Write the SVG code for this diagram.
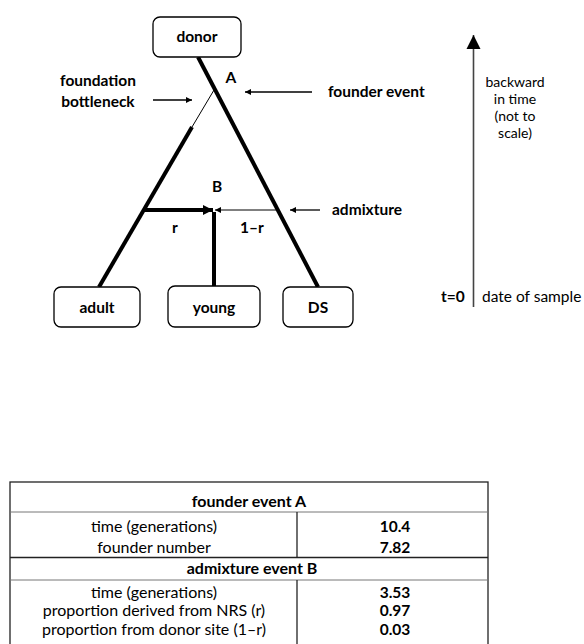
<svg xmlns="http://www.w3.org/2000/svg" width="584" height="644" viewBox="0 0 584 644">
<style>
.box{fill:#fff;stroke:#000;stroke-width:1.3}
.t{font-family:Lato,"Liberation Sans",sans-serif;fill:#000}
.b{font-weight:bold;font-size:15.5px}
.n{font-size:14px}
.m{text-anchor:middle}
.tb{font-size:16px}
.thick{stroke:#000;stroke-width:4;fill:none}
.thin{stroke:#000;stroke-width:1;fill:none}
.lbl{stroke:#000;stroke-width:1.3;fill:none}
.tl{stroke:#444;stroke-width:1.6}
.g{stroke:#777;stroke-width:1}
.d{stroke:#222;stroke-width:1.3}
</style>
<defs>
<marker id="ah" viewBox="0 0 10 10" refX="10" refY="5" markerWidth="8" markerHeight="6" markerUnits="userSpaceOnUse" orient="auto"><path d="M0,0 L10,5 L0,10 z" fill="#000"/></marker>
<marker id="ahb" viewBox="0 0 10 10" refX="10" refY="5" markerWidth="10" markerHeight="12" markerUnits="userSpaceOnUse" orient="auto"><path d="M0,0 L10,5 L0,10 z" fill="#000"/></marker>
<marker id="aht" viewBox="0 0 10 10" refX="10" refY="5" markerWidth="14" markerHeight="15" markerUnits="userSpaceOnUse" orient="auto"><path d="M0,0 L10,5 L0,10 z" fill="#000"/></marker>
</defs>
<g id="connectors">
<line class="thick" x1="198" y1="57" x2="318" y2="287"/>
<line class="thin" x1="214" y1="90" x2="192" y2="127"/>
<line class="thick" x1="192" y1="127" x2="99" y2="287"/>
<line class="thick" x1="143" y1="210" x2="213" y2="210" marker-end="url(#ahb)"/>
<line class="thin" x1="277" y1="210" x2="215" y2="210" marker-end="url(#ah)"/>
<line class="thick" x1="214" y1="212" x2="214" y2="286"/>
<line class="lbl" x1="312" y1="92" x2="245" y2="92" marker-end="url(#ah)"/>
<line class="lbl" x1="153" y1="100" x2="192" y2="100" marker-end="url(#ah)"/>
<line class="lbl" x1="320" y1="210" x2="290" y2="210" marker-end="url(#ah)"/>
<line class="tl" x1="473.5" y1="307" x2="473.5" y2="35" marker-end="url(#aht)"/>
</g>
<g id="donor"><rect class="box" x="153" y="17" width="88" height="40" rx="7"/><text class="t b m" x="197" y="42">donor</text></g>
<g id="adult"><rect class="box" x="54" y="287" width="86" height="40" rx="7"/><text class="t b m" x="97" y="313">adult</text></g>
<g id="young"><rect class="box" x="168" y="286" width="92" height="41" rx="7"/><text class="t b m" x="214" y="313">young</text></g>
<g id="ds"><rect class="box" x="283" y="287" width="70" height="40" rx="7"/><text class="t b m" x="318" y="313">DS</text></g>
<g id="labels">
<text class="t b m" x="231" y="83">A</text>
<text class="t b m" x="217" y="192">B</text>
<text class="t b m" x="175" y="233">r</text>
<text class="t b m" x="252" y="233">1–r</text>
<text class="t b" x="328" y="97">founder event</text>
<text class="t b m" x="98" y="86">foundation</text>
<text class="t b m" x="98" y="107">bottleneck</text>
<text class="t b" x="332" y="215">admixture</text>
<text class="t n m" x="515" y="87">backward</text>
<text class="t n m" x="515" y="104">in time</text>
<text class="t n m" x="515" y="121">(not to</text>
<text class="t n m" x="515" y="138">scale)</text>
<text class="t b" x="441" y="302">t=0</text>
<text class="t" style="font-size:15.5px" x="482" y="302">date of sample</text>
</g>
<g id="table">
<rect x="10" y="482" width="478" height="170" fill="#fff" stroke="#222" stroke-width="1.3"/>
<line class="g" x1="10" y1="512" x2="488" y2="512"/>
<line class="d" x1="10" y1="557.5" x2="488" y2="557.5"/>
<line class="g" x1="10" y1="580" x2="488" y2="580"/>
<line class="d" x1="297" y1="512" x2="297" y2="557.5"/>
<line class="d" x1="297" y1="580" x2="297" y2="644"/>
<text class="t b m tb" x="249" y="507">founder event A</text>
<text class="t m tb" x="154" y="532">time (generations)</text>
<text class="t m tb" x="154" y="553">founder number</text>
<text class="t b m tb" x="252" y="574">admixture event B</text>
<text class="t m tb" x="154" y="598">time (generations)</text>
<text class="t m tb" x="154" y="616">proportion derived from NRS (r)</text>
<text class="t m tb" x="154" y="635">proportion from donor site (1–r)</text>
<text class="t b m" x="395" y="532">10.4</text>
<text class="t b m" x="395" y="553">7.82</text>
<text class="t b m" x="395" y="598">3.53</text>
<text class="t b m" x="395" y="616">0.97</text>
<text class="t b m" x="395" y="635">0.03</text>
</g>
</svg>
